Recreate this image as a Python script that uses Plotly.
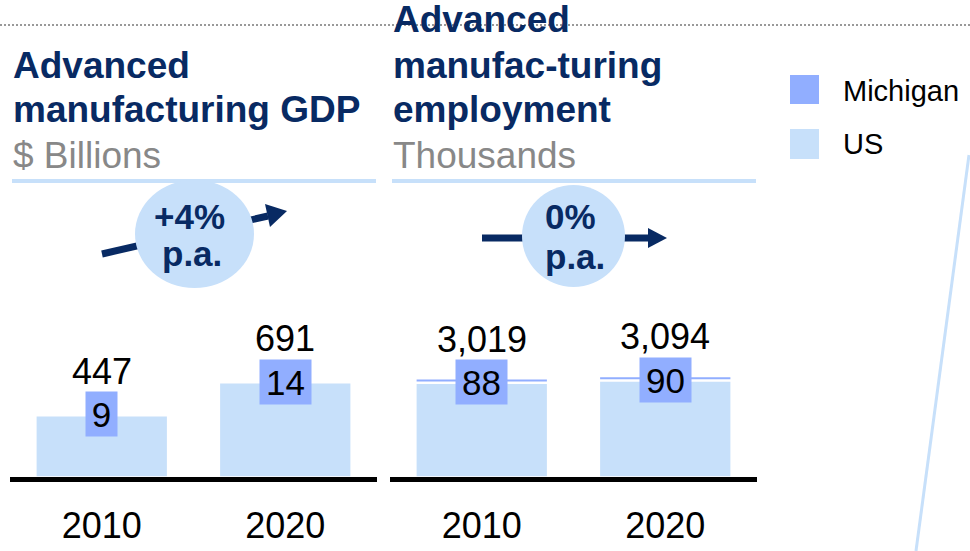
import plotly.graph_objects as go

# ---- data -------------------------------------------------------------
years = ["2010", "2020"]
gdp_us = [447, 691]          # $ billions, US advanced manufacturing GDP
gdp_mi = [9, 14]             # $ billions, Michigan
emp_us = [3019, 3094]        # thousands, US advanced manufacturing employment
emp_mi = [88, 90]            # thousands, Michigan
growth = ["+4%", "0%"]       # CAGR labels per panel
growth_unit = "p.a."
titles = [["Advanced", "manufacturing GDP"],
          ["Advanced", "manufac-turing", "employment"]]
units = ["$ Billions", "Thousands"]
legend_names = ["Michigan", "US"]

# ---- style ------------------------------------------------------------
W, H = 970, 551
NAVY = "#082A63"
MI_COL = "#91AEFF"
US_COL = "#C7E0FA"
GREY = "#888888"
FONT = "Liberation Sans, Arial, sans-serif"


def fx(p):
    return p / W


def fy(p):
    return 1 - p / H


PLOT_TOP, PLOT_BOTTOM = 200, 476.5
ydom = [fy(PLOT_BOTTOM), fy(PLOT_TOP)]

panels = [
    dict(xa="x", ya="y", us=gdp_us, mi=gdp_mi, dom=(10, 377), yrange=2056,
         stripe=False, left=12),
    dict(xa="x2", ya="y2", us=emp_us, mi=emp_mi, dom=(390, 757), yrange=9024,
         stripe=True, left=392),
]

fig = go.Figure()
shapes = []
ann = []

for p in panels:
    fig.add_trace(go.Bar(
        x=years, y=p["us"], xaxis=p["xa"], yaxis=p["ya"],
        marker=dict(color=US_COL, line=dict(width=0)), width=0.71,
        showlegend=False, hoverinfo="skip",
    ))
    for i, (yr, us, mi) in enumerate(zip(years, p["us"], p["mi"])):
        if p["stripe"]:
            # thin Michigan band sitting on the US bar
            shapes.append(dict(type="rect", xref=p["xa"], yref=p["ya"],
                               x0=i - 0.355, x1=i + 0.355,
                               ysizemode="pixel", yanchor=us, y0=2.5, y1=4.5,
                               fillcolor=MI_COL, line=dict(width=0), layer="above"))
        # US total above the bar
        ann.append(dict(x=i, y=us, xref=p["xa"], yref=p["ya"], text=f"{us:,}",
                        showarrow=False, yanchor="middle", yshift=45,
                        font=dict(family=FONT, size=36, color="black")))
        # Michigan value box at the bar top
        t = f"{mi:,}"
        ann.append(dict(x=i, y=us, xref=p["xa"], yref=p["ya"], text=t,
                        showarrow=False, yanchor="middle", yshift=2,
                        bgcolor=MI_COL, borderpad=0, width=11 + 20 * len(t), height=44,
                        font=dict(family=FONT, size=35, color="black")))

# ---- titles -------------------------------------------------------------
title_mid = [[65, 110], [20, 65, 110]]
for k, p in enumerate(panels):
    for line, ym in zip(titles[k], title_mid[k]):
        ann.append(dict(x=fx(p["left"] - 1), y=fy(ym), xref="paper", yref="paper",
                        xanchor="left", yanchor="middle", showarrow=False,
                        text=f"<b>{line}</b>",
                        font=dict(family=FONT, size=37, color=NAVY)))
    ann.append(dict(x=fx(p["left"] - 1), y=fy(155), xref="paper", yref="paper",
                    xanchor="left", yanchor="middle", showarrow=False, text=units[k],
                    font=dict(family=FONT, size=37, color=GREY)))
    shapes.append(dict(type="line", xref="paper", yref="paper",
                       x0=fx(p["left"]), x1=fx(p["dom"][1] - 1), y0=fy(181), y1=fy(181),
                       line=dict(color=US_COL, width=4)))

# dotted separator across the top
shapes.append(dict(type="line", xref="paper", yref="paper", x0=0, x1=1,
                   y0=fy(25), y1=fy(25),
                   line=dict(color="#999999", width=2, dash="2px,2px")))


# ---- growth call-outs ---------------------------------------------------
def poly(pts):
    return "M " + " L ".join(f"{fx(a):.5f},{fy(b):.5f}" for a, b in pts) + " Z"


callouts = [
    dict(line=((102, 254), (268, 216)), head=[(287, 211), (270, 227), (265, 204)],
         circle=(135, 180, 254, 288), text=[(189, 216), (192, 254)]),
    dict(line=((482, 238), (650, 238)), head=[(667, 238), (648, 228), (648, 248)],
         circle=(522, 185, 625, 287), text=[(570, 217), (575, 256)]),
]
for k, c in enumerate(callouts):
    (x0, y0), (x1, y1) = c["line"]
    shapes.append(dict(type="line", xref="paper", yref="paper",
                       x0=fx(x0), y0=fy(y0), x1=fx(x1), y1=fy(y1),
                       line=dict(color=NAVY, width=7)))
    shapes.append(dict(type="path", xref="paper", yref="paper", path=poly(c["head"]),
                       fillcolor=NAVY, line=dict(width=0)))
    cx0, cy0, cx1, cy1 = c["circle"]
    shapes.append(dict(type="circle", xref="paper", yref="paper",
                       x0=fx(cx0), x1=fx(cx1), y0=fy(cy1), y1=fy(cy0),
                       fillcolor=US_COL, line=dict(width=0)))
    for txt, (tx, ty) in zip([growth[k], growth_unit], c["text"]):
        ann.append(dict(x=fx(tx), y=fy(ty), xref="paper", yref="paper", showarrow=False,
                        xanchor="center", yanchor="middle", text=f"<b>{txt}</b>",
                        font=dict(family=FONT, size=35, color=NAVY)))

# ---- legend ---------------------------------------------------------------
for name, col, (sy0, sy1), ty in zip(legend_names, [MI_COL, US_COL],
                                     [(75, 104), (129, 159)], [91, 144]):
    shapes.append(dict(type="rect", xref="paper", yref="paper",
                       x0=fx(790), x1=fx(819), y0=fy(sy1), y1=fy(sy0),
                       fillcolor=col, line=dict(width=0)))
    ann.append(dict(x=fx(841), y=fy(ty), xref="paper", yref="paper", showarrow=False,
                    xanchor="left", yanchor="middle", text=name,
                    font=dict(family=FONT, size=29, color="black")))

# slanted connector on the right edge
shapes.append(dict(type="line", xref="paper", yref="paper",
                   x0=fx(969), y0=fy(155), x1=fx(916), y1=fy(551),
                   line=dict(color=US_COL, width=3)))

# ---- axes -----------------------------------------------------------------
axis_common = dict(type="category", showgrid=False, zeroline=False, showline=True,
                   linecolor="black", linewidth=5, ticks="", ticklabelstandoff=13,
                   tickfont=dict(family=FONT, size=36, color="black"),
                   range=[-0.5, 1.5], fixedrange=True)
yaxis_common = dict(showgrid=False, zeroline=False, showline=False, ticks="",
                    showticklabels=False, fixedrange=True, domain=ydom)

fig.update_layout(
    width=W, height=H, margin=dict(l=0, r=0, t=0, b=0),
    paper_bgcolor="white", plot_bgcolor="white",
    barmode="overlay", showlegend=False,
    xaxis=dict(axis_common, domain=[fx(10), fx(377)], anchor="y"),
    xaxis2=dict(axis_common, domain=[fx(390), fx(757)], anchor="y2"),
    yaxis=dict(yaxis_common, range=[0, panels[0]["yrange"]], anchor="x"),
    yaxis2=dict(yaxis_common, range=[0, panels[1]["yrange"]], anchor="x2"),
    shapes=shapes, annotations=ann,
    font=dict(family=FONT),
)

fig.write_html("out.html")
